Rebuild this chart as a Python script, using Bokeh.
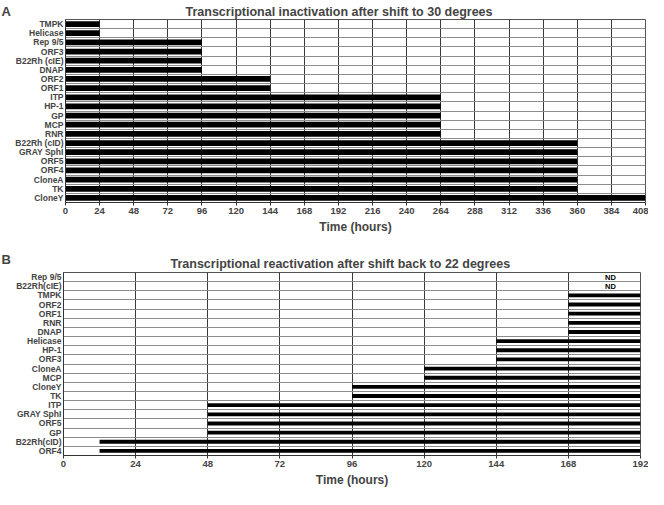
from bokeh.plotting import figure
from bokeh.layouts import column, row
from bokeh.models import FixedTicker, ColumnDataSource, Range1d
from bokeh.core.properties import value
from bokeh.embed import file_html
from bokeh.resources import INLINE

# ---- Panel A data ----
genes_a = ["TMPK", "Helicase", "Rep 9/5", "ORF3", "B22Rh (cIE)", "DNAP", "ORF2", "ORF1",
           "ITP", "HP-1", "GP", "MCP", "RNR", "B22Rh (cID)", "GRAY SphI", "ORF5", "ORF4",
           "CloneA", "TK", "CloneY"]
hours_a = [24, 24, 96, 96, 96, 96, 144, 144, 264, 264, 264, 264, 264,
           360, 360, 360, 360, 360, 360, 408]
ticks_a = list(range(0, 409, 24))

# ---- Panel B data ----
genes_b = ["Rep 9/5", "B22Rh(cIE)", "TMPK", "ORF2", "ORF1", "RNR", "DNAP", "Helicase",
           "HP-1", "ORF3", "CloneA", "MCP", "CloneY", "TK", "ITP", "GRAY SphI", "ORF5",
           "GP", "B22Rh(cID)", "ORF4"]
start_b = [None, None, 168, 168, 168, 168, 168, 144, 144, 144, 120, 120, 96, 96,
           48, 48, 48, 48, 12, 12]
end_b = 192
ticks_b = list(range(0, 193, 24))
nd_label = "ND"
nd_x = 182

FONT = "Liberation Sans"
LW = 12  # width of the panel-letter strip


def style(p, n, xticks):
    p.xaxis.ticker = FixedTicker(ticks=xticks)
    p.yaxis.ticker = FixedTicker(ticks=[i + 0.5 for i in range(n)])
    p.xgrid.ticker = FixedTicker(ticks=xticks)
    p.ygrid.ticker = FixedTicker(ticks=list(range(n + 1)))
    p.xgrid.grid_line_color = "#3a3a3a"
    p.xgrid.grid_line_width = 1
    p.ygrid.grid_line_color = "#8c8c8c"
    p.ygrid.grid_line_width = 1
    p.outline_line_color = "#555555"
    for ax in (p.xaxis, p.yaxis):
        ax.major_label_text_font = FONT
        ax.major_label_text_font_style = "bold"
        ax.axis_line_color = "#333333"
        ax.major_tick_line_color = "#333333"
        ax.minor_tick_line_color = None
        ax.major_tick_in = 0
    p.xaxis.major_tick_out = 3
    p.yaxis.major_tick_out = 0
    p.xaxis.major_label_text_font_size = "9.5px"
    p.yaxis.major_label_text_font_size = "8.5px"
    p.yaxis.major_label_standoff = 2
    p.xaxis.major_label_standoff = 2
    p.xaxis.axis_label = "Time (hours)"
    p.xaxis.axis_label_text_font = FONT
    p.xaxis.axis_label_text_font_style = "bold"
    p.xaxis.axis_label_text_font_size = "12px"
    p.xaxis.axis_label_standoff = 3
    p.title.text_font = FONT
    p.title.text_font_style = "bold"
    p.title.text_font_size = "12.5px"
    p.title.align = "left"
    p.title.standoff = 2


def letter_fig(letter, h, standoff):
    f = figure(width=LW, height=h, output_backend="svg", toolbar_location=None,
               x_range=Range1d(0, 1), y_range=Range1d(0, 1), title=letter,
               x_axis_location=None, y_axis_location=None,
               min_border_left=0, min_border_right=0, min_border_top=0, min_border_bottom=0)
    f.grid.visible = False
    f.outline_line_color = None
    f.title.text_font = FONT
    f.title.text_font_style = "bold"
    f.title.text_font_size = "13px"
    f.title.align = "left"
    f.title.offset = 1
    f.title.standoff = standoff
    return f


# ---- Panel A ----
HA = 240
na = len(genes_a)
pa = figure(width=648 - LW, height=HA, output_backend="svg", toolbar_location=None,
            x_range=Range1d(0, 408), y_range=Range1d(na, 0),
            title="Transcriptional inactivation after shift to 30 degrees",
            min_border_left=63 - LW, min_border_right=3, min_border_top=16, min_border_bottom=38)
style(pa, na, ticks_a)
pa.yaxis.major_label_overrides = {i + 0.5: g for i, g in enumerate(genes_a)}
src_a = ColumnDataSource(dict(y=[i + 0.5 for i in range(na)], right=hours_a))
pa.hbar(y="y", left=0, right="right", height=0.63, source=src_a,
        fill_color="black", line_color=None)
pa.title.offset = 120

# ---- Panel B ----
HB = 249
nb = len(genes_b)
pb = figure(width=648 - LW, height=HB, output_backend="svg", toolbar_location=None,
            x_range=Range1d(0, 192), y_range=Range1d(nb, 0),
            title="Transcriptional reactivation after shift back to 22 degrees",
            min_border_left=59 - LW, min_border_right=8, min_border_top=32, min_border_bottom=30)
style(pb, nb, ticks_b)
pb.title.standoff = 4
pb.yaxis.major_label_overrides = {i + 0.5: g for i, g in enumerate(genes_b)}
ys, lefts, nd_ys = [], [], []
for i, s in enumerate(start_b):
    if s is None:
        nd_ys.append(i + 0.5)
    else:
        ys.append(i + 0.5)
        lefts.append(s)
src_b = ColumnDataSource(dict(y=ys, left=lefts, right=[end_b] * len(ys)))
pb.hbar(y="y", left="left", right="right", height=0.42, source=src_b,
        fill_color="black", line_color=None)
src_nd = ColumnDataSource(dict(x=[nd_x] * len(nd_ys), y=nd_ys, t=[nd_label] * len(nd_ys)))
pb.text(x="x", y="y", text="t", source=src_nd, text_align="center",
        text_baseline="middle", text_font_size="7.5px", text_font_style="bold",
        text_font=value(FONT), text_color="black")
pb.title.offset = 107

la = letter_fig("A", HA, 2)
lb = letter_fig("B", HB, 11)

p = column(row(la, pa, spacing=0), row(lb, pb, spacing=0), spacing=0)
open("out.html", "w").write(file_html(p, INLINE))
